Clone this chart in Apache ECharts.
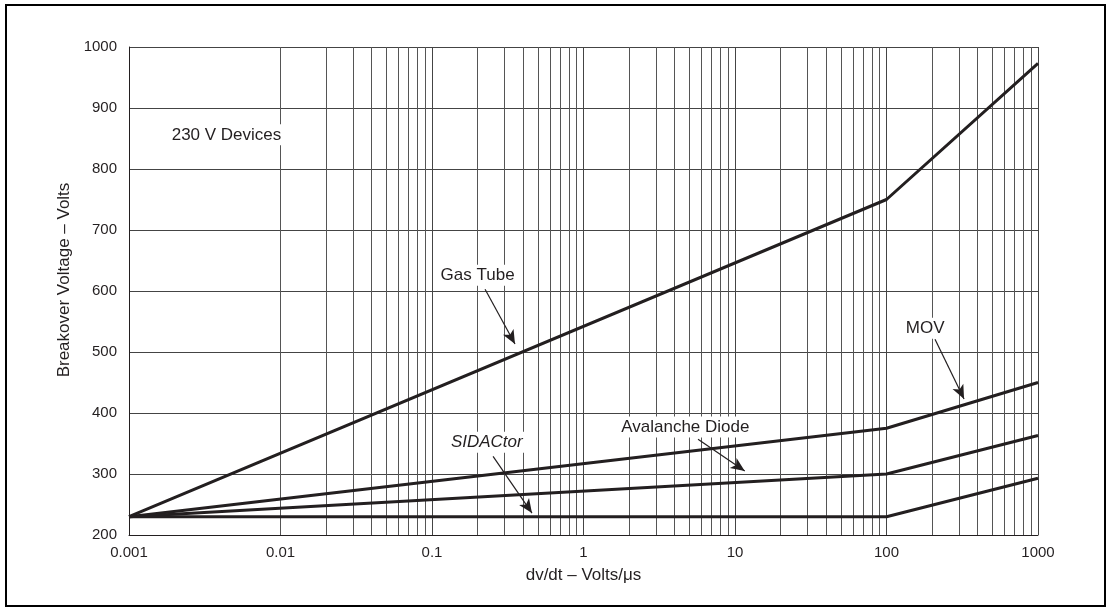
<!DOCTYPE html>
<html>
<head>
<meta charset="utf-8">
<script src="https://cdn.jsdelivr.net/npm/echarts@6/dist/echarts.min.js"></script>
<style>
  html, body { margin: 0; padding: 0; background: #fff; }
  #chart { width: 1111px; height: 611px; }
</style>
</head>
<body>
<div id="chart"></div>
<script>
// breakover voltage vs dv/dt, 230 V devices
const dvdt = [0.001, 100, 1000];
const gasTube = [230, 750, 973];
const mov = [230, 375, 450];
const avalanche = [230, 300, 363];
const sidactor = [230, 230, 293];

// text notes: [text, x, y]
const notes = [
  ['230 V Devices', 0.0044, 856],
  ['Gas Tube', 0.2, 626],
  ['SIDACtor', 0.23, 352],
  ['Avalanche Diode', 4.7, 377],
  ['MOV', 180, 539]
];
// arrows: [x1, y1, x2, y2]
const arrows = [
  [0.224, 603, 0.353, 513],
  [0.253, 329, 0.457, 236],
  [5.7, 357, 11.6, 305],
  [209, 521, 325, 423]
];

const ink = '#231f20';
const font = "'Liberation Sans', Arial, Helvetica, sans-serif";

function pairs(ys) {
  return dvdt.map((x, i) => [x, ys[i]]);
}

// minor log grid lines 2..9 in each decade
const minorX = [];
for (let e = -3; e < 3; e++) {
  for (let m = 2; m <= 9; m++) minorX.push(+(m * Math.pow(10, e)).toPrecision(3));
}

const chartDom = document.getElementById('chart');
const myChart = echarts.init(chartDom, null, { renderer: 'canvas' });

function curve(name, ys) {
  return {
    name: name,
    type: 'line',
    data: pairs(ys),
    symbol: 'none',
    z: 5,
    lineStyle: { color: ink, width: 3 }
  };
}

const option = {
  backgroundColor: '#fff',
  animation: false,
  textStyle: { fontFamily: font, color: ink },
  graphic: [{
    type: 'rect',
    shape: { x: 6, y: 5, width: 1099, height: 601 },
    style: { fill: 'none', stroke: '#000', lineWidth: 2 },
    silent: true
  }],
  grid: { left: 129, right: 73, top: 47, bottom: 76 },
  xAxis: {
    type: 'log',
    logBase: 10,
    min: 0.001,
    max: 1000,
    name: 'dv/dt – Volts/μs',
    nameLocation: 'middle',
    nameGap: 32,
    nameTextStyle: { fontSize: 17, color: ink, fontFamily: font },
    axisLine: { lineStyle: { color: ink, width: 1 } },
    axisTick: { show: false },
    axisLabel: {
      fontSize: 15, color: ink, margin: 10,
      formatter: v => String(+v.toPrecision(3))
    },
    splitLine: { show: true, lineStyle: { color: '#444', width: 1 } }
  },
  yAxis: {
    type: 'value',
    min: 200,
    max: 1000,
    interval: 100,
    name: 'Breakover Voltage – Volts',
    nameLocation: 'middle',
    nameGap: 46,
    nameTextStyle: { fontSize: 17, color: ink, fontFamily: font, padding: [0, 0, 0, 22] },
    axisLine: { show: true, lineStyle: { color: ink, width: 1 } },
    axisTick: { show: false },
    axisLabel: { fontSize: 15, color: ink, margin: 12, formatter: v => String(v) },
    splitLine: { show: true, lineStyle: { color: '#444', width: 1 } }
  },
  series: [
    {
      name: 'grid',
      type: 'line',
      data: [[0.001, 200]],
      symbol: 'none',
      lineStyle: { width: 0 },
      z: 1,
      silent: true,
      markLine: {
        silent: true,
        symbol: 'none',
        label: { show: false },
        lineStyle: { color: '#555', width: 1, type: 'solid' },
        data: minorX.map(x => ({ xAxis: x }))
      }
    },
    curve('Gas Tube', gasTube),
    curve('MOV', mov),
    curve('Avalanche Diode', avalanche),
    curve('SIDACtor', sidactor),
    {
      name: 'notes',
      type: 'line',
      data: [],
      z: 10,
      silent: true,
      markLine: {
        silent: true,
        symbol: ['none', 'arrow'],
        symbolSize: [9, 14],
        label: { show: false },
        lineStyle: { color: ink, width: 1.2, type: 'solid' },
        data: arrows.map(a => [{ coord: [a[0], a[1]] }, { coord: [a[2], a[3]] }])
      },
      markPoint: {
        silent: true,
        symbol: 'rect',
        symbolSize: 0,
        itemStyle: { color: 'transparent' },
        label: {
          show: true,
          position: 'inside',
          fontSize: 17,
          color: ink,
          fontFamily: font,
          backgroundColor: '#fff',
          padding: [2, 3],
          formatter: p => p.name
        },
        data: notes.map(n => ({
          name: n[0],
          coord: [n[1], n[2]],
          label: n[0] === 'SIDACtor' ? { fontStyle: 'italic' } : {}
        }))
      }
    }
  ]
};

myChart.setOption(option, true);
</script>
</body>
</html>
